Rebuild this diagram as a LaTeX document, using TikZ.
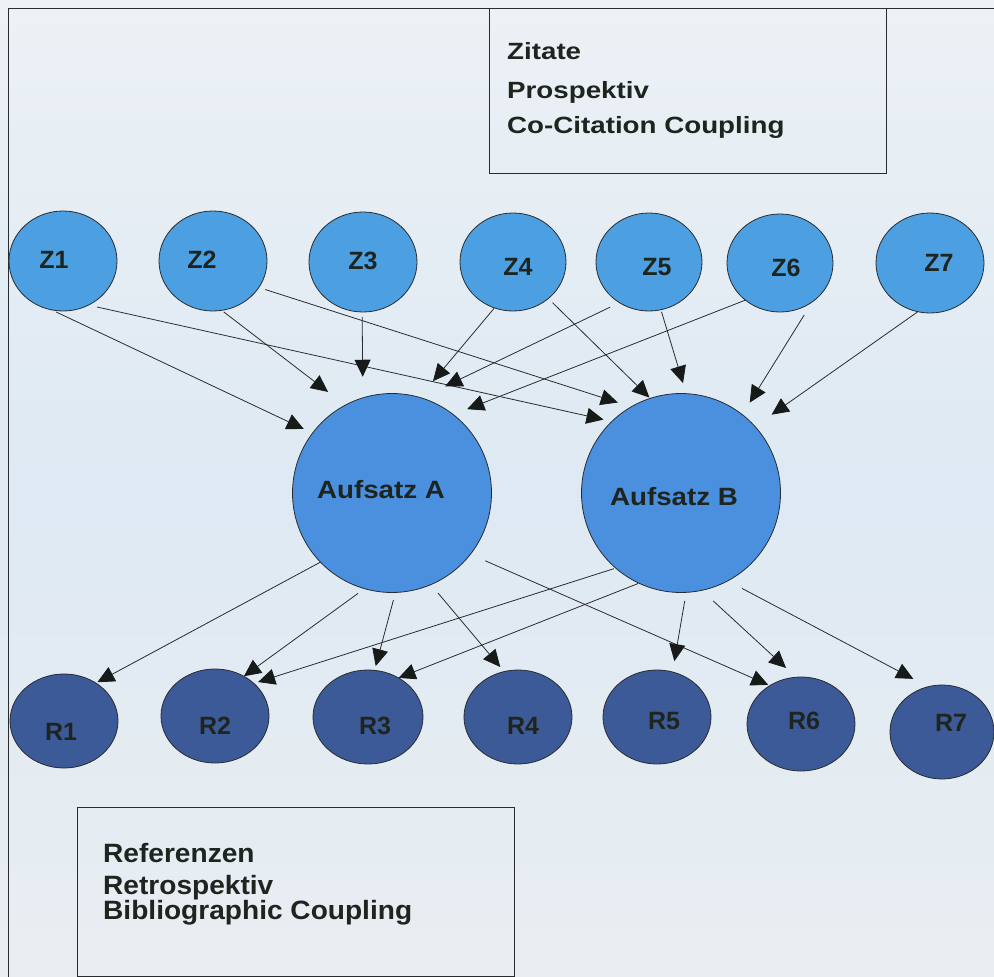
\documentclass[tikz,border=0pt]{standalone}
\usepackage{graphicx}
\usepackage{fontspec}
\setmainfont{Liberation Sans}
\usetikzlibrary{shapes.geometric,arrows.meta}
\definecolor{zfill}{RGB}{76,160,226}
\definecolor{afill}{RGB}{74,144,222}
\definecolor{rfill}{RGB}{60,90,152}
\definecolor{edgec}{RGB}{40,44,48}
\definecolor{tipc}{RGB}{22,26,24}
\definecolor{txtc}{RGB}{30,36,30}
\definecolor{bgtop}{RGB}{236,241,245}
\definecolor{bgmid}{RGB}{222,233,243}
\definecolor{bgbot}{RGB}{233,238,242}
\newcommand\labfont{\fontsize{25}{30}\selectfont\bfseries}
\newcommand\topfont{\fontsize{23.5}{28}\selectfont\bfseries}
\newcommand\botfont{\fontsize{26.5}{31}\selectfont\bfseries}
\newcommand\wx[2]{\scalebox{#1}[1]{#2}}
\begin{document}
\begin{tikzpicture}[x=1pt,y=-1pt,
  zn/.style={ellipse, draw=edgec, line width=0.8pt, fill=zfill, inner sep=0pt, outer sep=0pt, minimum width=107pt, minimum height=99pt},
  rn/.style={ellipse, draw=edgec, line width=0.8pt, fill=rfill, inner sep=0pt, outer sep=0pt, minimum width=108pt, minimum height=94pt},
  an/.style={circle, draw=edgec, line width=0.8pt, fill=afill, inner sep=0pt, outer sep=0pt, minimum size=199pt},
  lbl/.style={font=\labfont, text=txtc, inner sep=0pt, anchor=base},
  boxtxt/.style={text=txtc, inner sep=0pt, anchor=base west},
  boxst/.style={draw=edgec, line width=0.9pt, inner sep=0pt, outer sep=0pt, anchor=north west},
  arr/.style={draw=edgec, line width=0.8pt, -{Triangle[length=17pt,width=16pt,color=tipc]}}
]
\useasboundingbox (0,0) rectangle (994,977);
\shade[top color=bgtop, bottom color=bgbot, middle color=bgmid] (0,0) rectangle (994,977);
\draw[edgec, line width=1pt] (8,977) -- (8,8) -- (994,8);

% boxes
\node[boxst, minimum width=397pt, minimum height=165pt] (topbox) at (489,8) {};
\node[boxst, minimum width=437pt, minimum height=169pt] (botbox) at (77,807) {};
\node[boxtxt, font=\topfont] (t1) at (507,59) {\wx{1.18}{Zitate}};
\node[boxtxt, font=\topfont] (t2) at (507,98) {\wx{1.18}{Prospektiv}};
\node[boxtxt, font=\topfont] (t3) at (507,133) {\wx{1.18}{Co-Citation Coupling}};
\node[boxtxt, font=\botfont] (b1) at (103,862) {\wx{1.06}{Referenzen}};
\node[boxtxt, font=\botfont] (b2) at (103,894) {\wx{1.06}{Retrospektiv}};
\node[boxtxt, font=\botfont] (b3) at (103,919) {\wx{1.06}{Bibliographic Coupling}};

% Z nodes
\node[zn, minimum width=108pt, minimum height=100pt] (Z1) at (63,261) {};
\node[zn, minimum width=108pt, minimum height=100pt] (Z2) at (213,261) {};
\node[zn, minimum width=108pt, minimum height=100pt] (Z3) at (363,262) {};
\node[zn, minimum width=106pt, minimum height=98pt] (Z4) at (513,262) {};
\node[zn, minimum width=106pt, minimum height=98pt] (Z5) at (649,262) {};
\node[zn, minimum width=106pt, minimum height=98pt] (Z6) at (780,263) {};
\node[zn, minimum width=108pt, minimum height=100pt] (Z7) at (930,263) {};
\node[lbl] (Z1t) at (54,268) {Z1};
\node[lbl] (Z2t) at (202,268) {Z2};
\node[lbl] (Z3t) at (363,269) {Z3};
\node[lbl] (Z4t) at (518,275) {Z4};
\node[lbl] (Z5t) at (657,275) {Z5};
\node[lbl] (Z6t) at (786,276) {Z6};
\node[lbl] (Z7t) at (939,271) {Z7};

% A, B
\node[an] (A) at (392,493) {};
\node[an] (B) at (681,493) {};
\node[lbl] (At) at (381,498) {\wx{1.11}{Aufsatz A}};
\node[lbl] (Bt) at (674,505) {\wx{1.11}{Aufsatz B}};

% R nodes
\node[rn] (R1) at (64,721) {};
\node[rn] (R2) at (215,716) {};
\node[rn, minimum width=110pt] (R3) at (368,717) {};
\node[rn] (R4) at (518,717) {};
\node[rn] (R5) at (657,717) {};
\node[rn] (R6) at (801,724) {};
\node[rn, minimum width=104pt] (R7) at (942,732) {};
\node[lbl] (R1t) at (61,740) {R1};
\node[lbl] (R2t) at (215,734) {R2};
\node[lbl] (R3t) at (375,734) {R3};
\node[lbl] (R4t) at (523,734) {R4};
\node[lbl] (R5t) at (664,729) {R5};
\node[lbl] (R6t) at (804,729) {R6};
\node[lbl] (R7t) at (951,731) {R7};

% citations -> papers
\draw[arr, shorten <=5pt, shorten >=9.7pt] (Z1.-103.3) -- (A.143.8);
\draw[arr, shorten <=8.8pt, shorten >=8.6pt] (Z1.-60) -- (B.134.4);
\draw[arr, shorten <=2.5pt, shorten >=21.7pt] (Z2.-80.8) -- (A.118);
\draw[arr, shorten <=6.8pt, shorten >=14.1pt] (Z2.-30.6) -- (B.120.6);
\draw[arr, shorten <=5pt, shorten >=21.1pt] (Z3.-91.1) -- (A.107.5);
\draw[arr, shorten <=0.5pt, shorten >=21.1pt] (Z4.-112.4) -- (A.74.6);
\draw[arr, shorten <=10.3pt, shorten >=26.7pt] (Z5.-126.2) -- (A.73.7);
\draw[arr, shorten >=14.9pt] (Z6.-133.6) -- (A.52.1);
\draw[arr, shorten <=5.8pt, shorten >=1.2pt] (Z4.-46.6) -- (B.108.9);
\draw[arr, shorten <=2.2pt, shorten >=11pt] (Z5.-76.5) -- (B.87.6);
\draw[arr, shorten <=15.6pt, shorten >=14.1pt] (Z6.-50.2) -- (B.52.6);
\draw[arr, shorten <=0.6pt, shorten >=20.4pt] (Z7.-104.4) -- (B.42.6);

% papers -> references
\draw[arr, shorten >=1.7pt] (A.-136.2) -- (R1.50.5);
\draw[arr, shorten <=8pt] (A.-106.7) -- (R2.54.6);
\draw[arr, shorten <=2pt, shorten >=4.4pt] (B.-131.6) -- (R2.40.1);
\draw[arr, shorten <=7.8pt, shorten >=4.4pt] (A.-88.9) -- (R3.82.8);
\draw[arr, shorten <=0.9pt] (B.-115.7) -- (R3.52.2);
\draw[arr, shorten <=11pt, shorten >=6pt] (A.-67) -- (R4.107.3);
\draw[arr, shorten <=16.2pt, shorten >=1.8pt] (A.-38.2) -- (R6.129.3);
\draw[arr, shorten <=8.7pt, shorten >=11pt] (B.-87.4) -- (R5.71.4);
\draw[arr, shorten <=15.7pt, shorten >=13.6pt] (B.-78.1) -- (R6.96.1);
\draw[arr, shorten <=16.3pt, shorten >=16.8pt] (B.-62.7) -- (R7.107.4);
\end{tikzpicture}
\end{document}
